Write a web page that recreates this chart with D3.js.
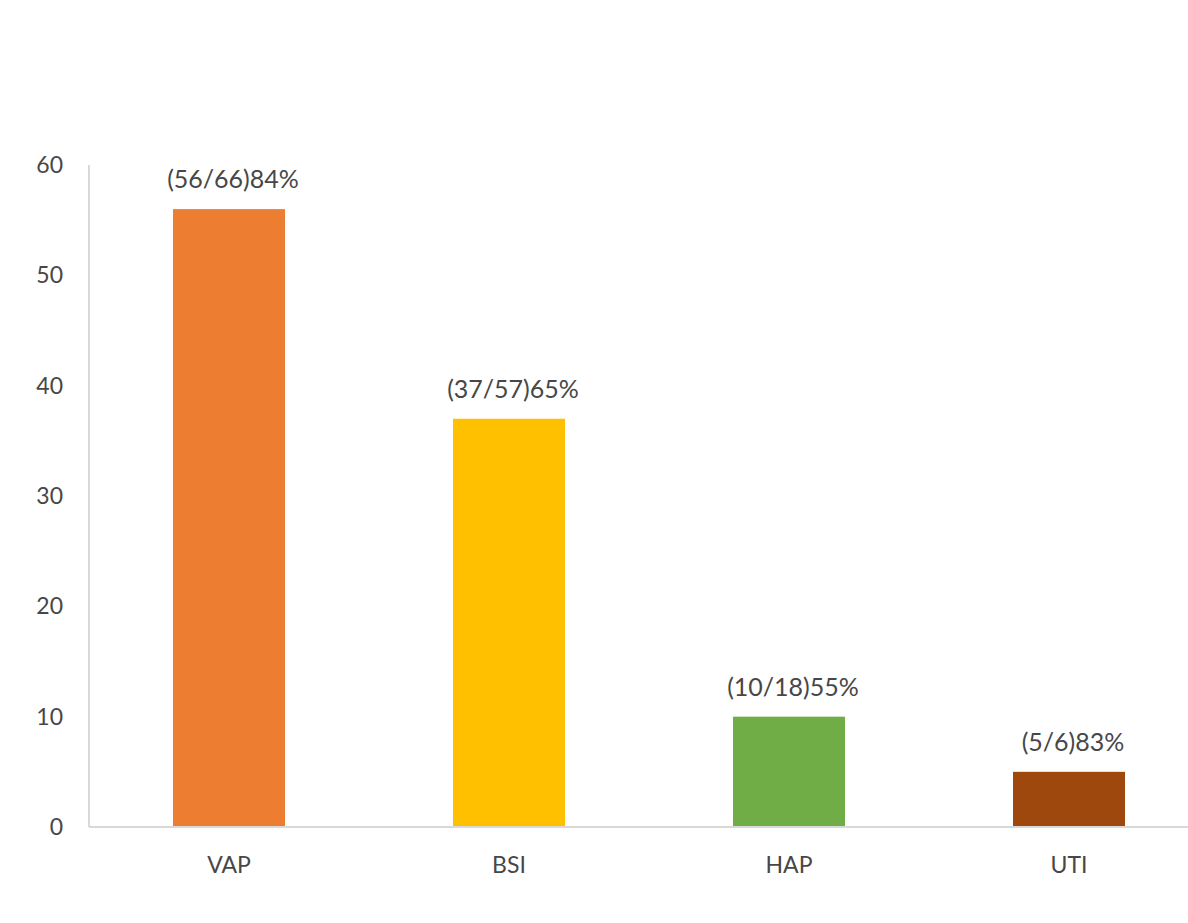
<!DOCTYPE html>
<html>
<head>
<meta charset="utf-8">
<script src="https://cdn.jsdelivr.net/npm/d3@7"></script>
<style>
  html, body { margin: 0; padding: 0; background: #fff; }
  svg { display: block; }
</style>
</head>
<body>
<svg id="chart" width="1188" height="923"></svg>
<script>
// Infection types and the number of cases in each
const categories = ["VAP", "BSI", "HAP", "UTI"];
const values = [56, 37, 10, 5];
const dataLabels = ["(56/66)84%", "(37/57)65%", "(10/18)55%", "(5/6)83%"];
const barColors = ["#ed7d31", "#ffc000", "#70ad47", "#9e480e"];
const yTicks = [0, 10, 20, 30, 40, 50, 60];

const svg = d3.select("#chart");
const font = "Lato, 'Open Sans', sans-serif";
const textColor = "#474747";

const x = d3.scaleBand()
  .domain(categories)
  .range([89, 1209])
  .paddingInner(0.6)
  .paddingOuter(0.3);

const y = d3.scaleLinear()
  .domain([0, 60])
  .range([827, 165]);

// Vertical axis line
svg.append("line")
  .attr("x1", 89).attr("x2", 89)
  .attr("y1", y(60)).attr("y2", y(0))
  .attr("stroke", "#d9d9d9").attr("stroke-width", 2);

// Y tick labels
svg.append("g")
  .selectAll("text")
  .data(yTicks)
  .join("text")
  .attr("x", 63)
  .attr("y", d => y(d))
  .attr("dy", "0.35em")
  .attr("text-anchor", "end")
  .attr("font-family", font)
  .attr("font-size", 23)
  .attr("fill", textColor)
  .text(d => d);

// Bars
svg.append("g")
  .selectAll("rect")
  .data(categories)
  .join("rect")
  .attr("x", d => x(d))
  .attr("y", (d, i) => y(values[i]))
  .attr("width", x.bandwidth())
  .attr("height", (d, i) => y(0) - y(values[i]))
  .attr("fill", (d, i) => barColors[i]);

// Horizontal axis line
svg.append("line")
  .attr("x1", 89).attr("x2", 1188)
  .attr("y1", y(0)).attr("y2", y(0))
  .attr("stroke", "#d9d9d9").attr("stroke-width", 2);

// Value labels above bars
svg.append("g")
  .selectAll("text")
  .data(categories)
  .join("text")
  .attr("x", d => x(d) + x.bandwidth() / 2 + 4)
  .attr("y", (d, i) => y(values[i]) - 21)
  .attr("text-anchor", "middle")
  .attr("font-family", font)
  .attr("font-size", 25)
  .attr("fill", textColor)
  .text((d, i) => dataLabels[i]);

// Category labels
svg.append("g")
  .selectAll("text")
  .data(categories)
  .join("text")
  .attr("x", d => x(d) + x.bandwidth() / 2)
  .attr("y", 873)
  .attr("text-anchor", "middle")
  .attr("font-family", font)
  .attr("font-size", 23)
  .attr("fill", textColor)
  .text(d => d);
</script>
</body>
</html>
